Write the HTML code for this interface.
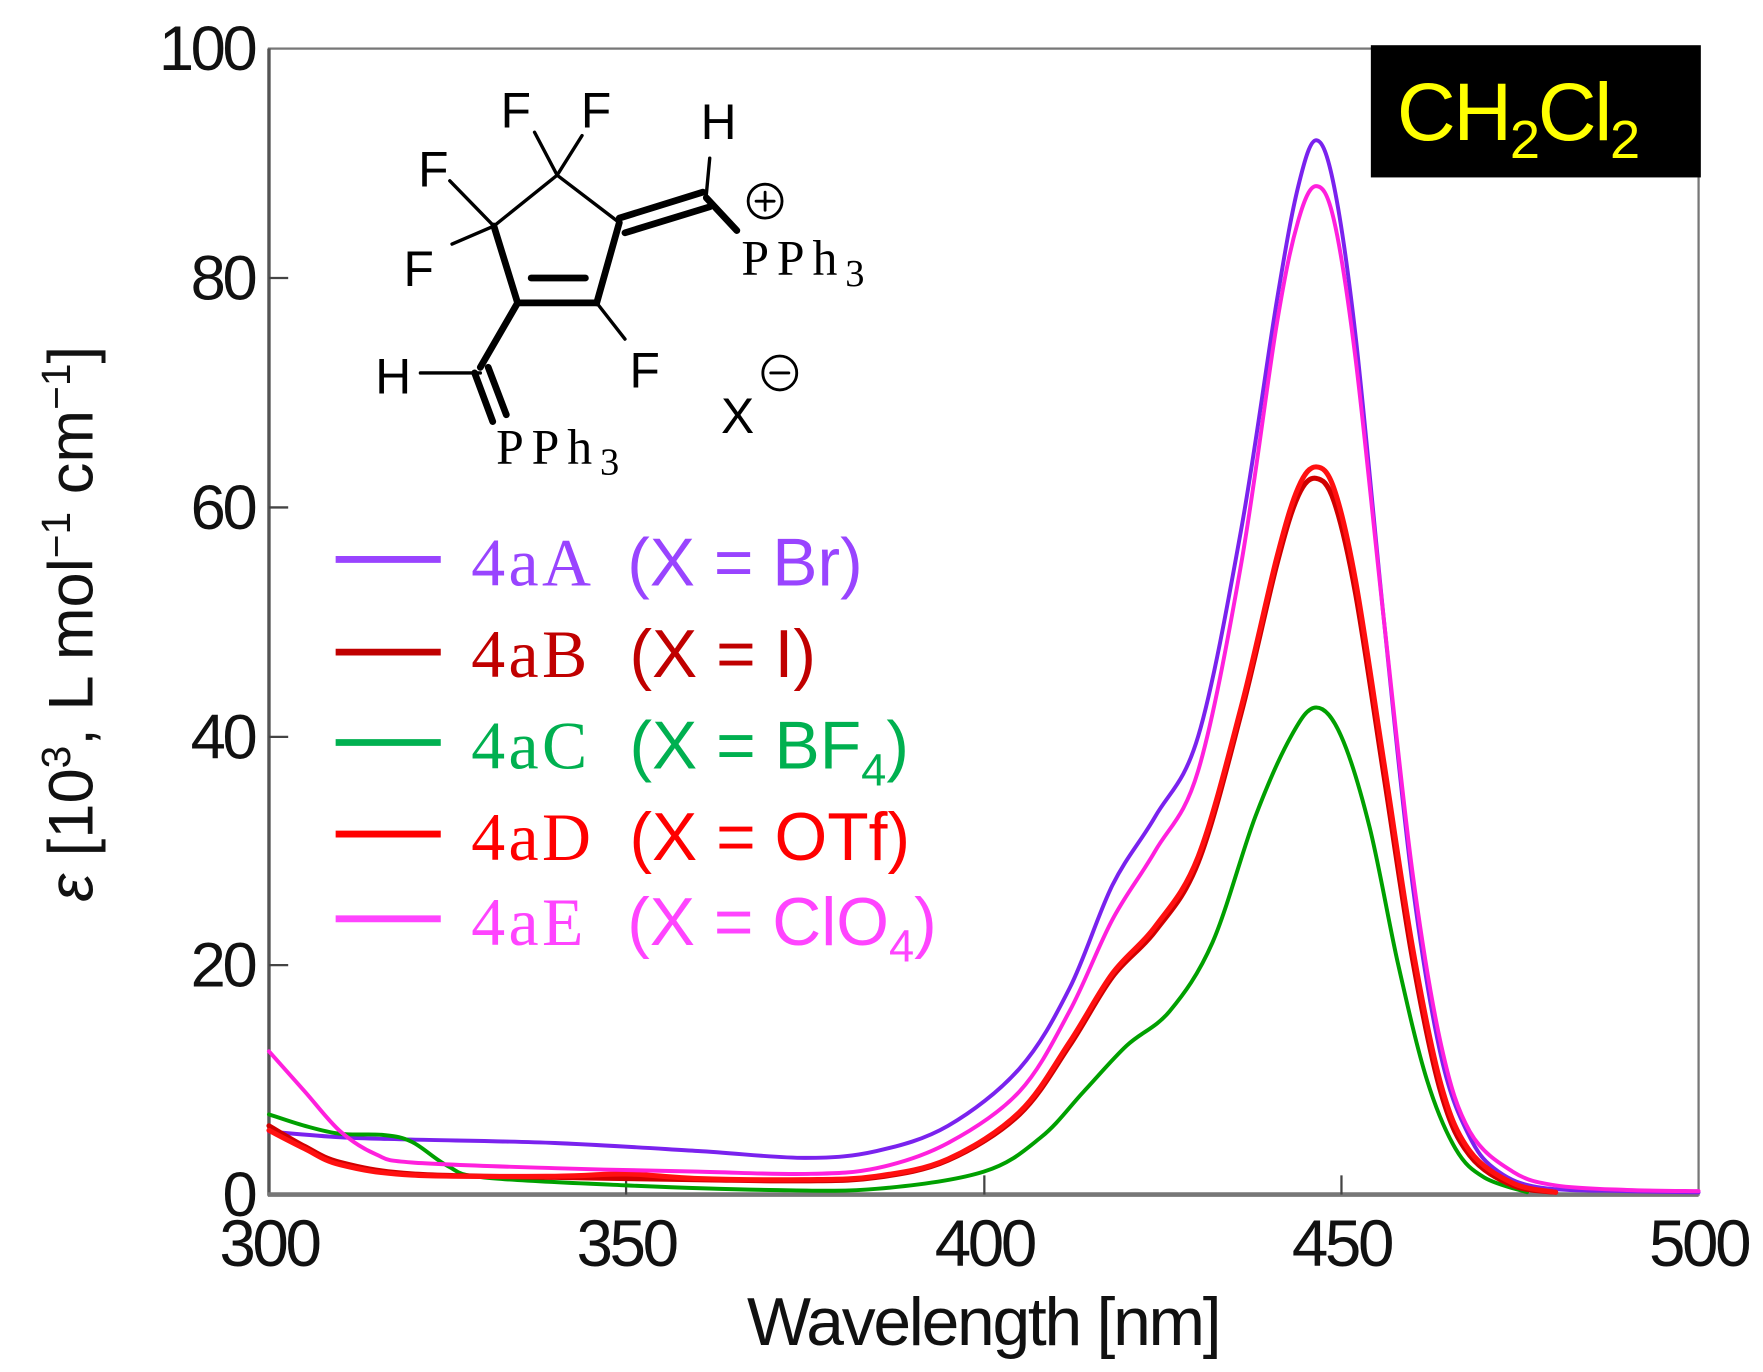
<!DOCTYPE html>
<html><head><meta charset="utf-8"><style>html,body{margin:0;padding:0;background:#fff}svg{display:block}</style></head>
<body>
<svg id="s" width="1763" height="1372" viewBox="0 0 1560 1214" preserveAspectRatio="none" xmlns="http://www.w3.org/2000/svg">
<rect width="1560" height="1214" fill="#fff"/>
<rect x="238" y="43" width="1265" height="1014" fill="none" stroke="#777" stroke-width="2"/>
<line x1="238" y1="43" x2="238" y2="1058" stroke="#555" stroke-width="3"/>
<line x1="237" y1="1057" x2="1503" y2="1057" stroke="#777" stroke-width="4"/>
<g stroke="#444" stroke-width="2">
<line x1="554" y1="1057" x2="554" y2="1040"/><line x1="871" y1="1057" x2="871" y2="1040"/><line x1="1187" y1="1057" x2="1187" y2="1040"/>
<line x1="238" y1="854" x2="255" y2="854"/><line x1="238" y1="652" x2="255" y2="652"/><line x1="238" y1="449" x2="255" y2="449"/><line x1="238" y1="246" x2="255" y2="246"/>
</g>
<g font-family="Liberation Sans, sans-serif" font-size="56" fill="#111" text-anchor="end" letter-spacing="-3">
<text x="225" y="62">100</text><text x="225" y="265">80</text><text x="225" y="468">60</text><text x="225" y="671">40</text><text x="225" y="873">20</text><text x="225" y="1076">0</text>
</g>
<g font-family="Liberation Sans, sans-serif" font-size="58" fill="#111" text-anchor="middle" letter-spacing="-3">
<text x="238" y="1120">300</text><text x="554" y="1120">350</text><text x="871" y="1120">400</text><text x="1187" y="1120">450</text><text x="1503" y="1120">500</text>
<text x="870" y="1190" font-size="60" letter-spacing="-2">Wavelength [nm]</text>
</g>
<text transform="translate(82,552) rotate(-90)" font-family="Liberation Sans, sans-serif" font-size="56" fill="#111" text-anchor="middle"><tspan font-style="italic">ε</tspan> [10<tspan dy="-20" font-size="36">3</tspan><tspan dy="20">,  L mol</tspan><tspan dy="-20" font-size="36">−1</tspan><tspan dy="20"> cm</tspan><tspan dy="-20" font-size="36">−1</tspan><tspan dy="20">]</tspan></text>
<rect x="1213" y="40" width="292" height="117" fill="#000"/>
<text x="1236" y="124" font-family="Liberation Sans, sans-serif" font-size="72" fill="#ffff00" letter-spacing="-2">CH<tspan font-size="48" dy="16">2</tspan><tspan dy="-16">Cl</tspan><tspan font-size="48" dy="16">2</tspan></text>
<g id="curves" fill="none" stroke-linejoin="round" stroke-linecap="round"></g>
<g stroke-width="6">
<line x1="297" y1="495" x2="390" y2="495" stroke="#9944ff"/>
<line x1="297" y1="577" x2="390" y2="577" stroke="#c00000"/>
<line x1="297" y1="657" x2="390" y2="657" stroke="#00b050"/>
<line x1="297" y1="738" x2="390" y2="738" stroke="#ff0000"/>
<line x1="297" y1="813" x2="390" y2="813" stroke="#ff44ff"/>
</g>
<g font-size="60">
<text x="417" y="518" fill="#9944ff"><tspan font-family="Liberation Serif, serif" letter-spacing="3">4aA</tspan><tspan font-family="Liberation Sans, sans-serif" x="555">(X = Br)</tspan></text>
<text x="417" y="599" fill="#c00000"><tspan font-family="Liberation Serif, serif" letter-spacing="3">4aB</tspan><tspan font-family="Liberation Sans, sans-serif" x="557">(X = I)</tspan></text>
<text x="417" y="680" fill="#00b050"><tspan font-family="Liberation Serif, serif" letter-spacing="3">4aC</tspan><tspan font-family="Liberation Sans, sans-serif" x="557">(X = BF</tspan><tspan font-family="Liberation Sans, sans-serif" font-size="40" dy="15">4</tspan><tspan font-family="Liberation Sans, sans-serif" dy="-15">)</tspan></text>
<text x="417" y="761" fill="#ff0000"><tspan font-family="Liberation Serif, serif" letter-spacing="3">4aD</tspan><tspan font-family="Liberation Sans, sans-serif" x="557">(X = OTf)</tspan></text>
<text x="417" y="836" fill="#ff44ff"><tspan font-family="Liberation Serif, serif" letter-spacing="3">4aE</tspan><tspan font-family="Liberation Sans, sans-serif" x="555">(X = ClO</tspan><tspan font-family="Liberation Sans, sans-serif" font-size="40" dy="15">4</tspan><tspan font-family="Liberation Sans, sans-serif" dy="-15">)</tspan></text>
</g>
<g stroke="#000" fill="none" stroke-linecap="round">
<line x1="493" y1="155" x2="437" y2="200" stroke-width="3"/>
<line x1="493" y1="155" x2="548" y2="197" stroke-width="3"/>
<line x1="437" y1="200" x2="458" y2="268" stroke-width="6"/>
<line x1="458" y1="268" x2="528" y2="268" stroke-width="6"/>
<line x1="528" y1="268" x2="548" y2="197" stroke-width="6"/>
<line x1="470" y1="246" x2="518" y2="246" stroke-width="6"/>
<line x1="493" y1="155" x2="473" y2="117" stroke-width="3"/>
<line x1="493" y1="155" x2="515" y2="120" stroke-width="3"/>
<line x1="437" y1="200" x2="398" y2="160" stroke-width="3"/>
<line x1="437" y1="200" x2="400" y2="216" stroke-width="3"/>
<line x1="528" y1="268" x2="553" y2="300" stroke-width="3"/>
<line x1="548" y1="193" x2="622" y2="170" stroke-width="6"/>
<line x1="553" y1="206" x2="628" y2="183" stroke-width="6"/>
<line x1="625" y1="175" x2="652" y2="204" stroke-width="6"/>
<line x1="625" y1="172" x2="628" y2="140" stroke-width="3"/>
<line x1="458" y1="268" x2="425" y2="325" stroke-width="6"/>
<line x1="420" y1="330" x2="436" y2="373" stroke-width="6"/>
<line x1="432" y1="325" x2="448" y2="367" stroke-width="6"/>
<line x1="372" y1="330" x2="425" y2="330" stroke-width="3"/>
<circle cx="677" cy="178" r="15" stroke-width="2.5"/>
<line x1="669" y1="178" x2="685" y2="178" stroke-width="2.5"/>
<line x1="677" y1="170" x2="677" y2="186" stroke-width="2.5"/>
<circle cx="690" cy="330" r="15" stroke-width="2.5"/>
<line x1="682" y1="330" x2="698" y2="330" stroke-width="2.5"/>
</g>
<g font-family="Liberation Sans, sans-serif" font-size="44" fill="#000">
<text x="443" y="113">F</text><text x="514" y="113">F</text><text x="370" y="165">F</text><text x="357" y="253">F</text><text x="557" y="343">F</text>
<text x="620" y="123">H</text><text x="332" y="348">H</text><text x="638" y="383">X</text>
</g>
<g font-family="Liberation Serif, serif" font-size="44" fill="#000" letter-spacing="7">
<text x="656" y="243">PPh<tspan font-size="34" dy="10">3</tspan></text>
<text x="439" y="410">PPh<tspan font-size="34" dy="10">3</tspan></text>
</g>
</svg>
<script>
var X=function(l){return 238+(l-300)*6.325},Y=function(v){return 1057-v*10.14};
var D={
"#7a22ee":[[300,5.5],[310,5],[320,4.8],[340,4.5],[360,3.8],[375,3.2],[385,3.8],[395,6],[405,11],[412,18],[418,27],[424,33],[430,40],[436,58],[441,78],[444,88],[446.5,92],[449,88],[452,75],[456,50],[460,27],[464,12],[468,5],[472,2],[478,0.6],[490,0.3],[500,0.2]],
"#00a000":[[300,7],[305,6],[310,5.3],[316,5.2],[320,4.6],[325,2.5],[330,1.5],[350,0.8],[370,0.4],[385,0.5],[400,2],[408,5],[414,9],[420,13],[426,16],[432,22],[438,33],[443,40],[446.5,42.5],[450,40],[454,32],[458,20],[462,10],[466,4],[470,1.5],[476,0.2]],
"#d00000":[[300,6],[305,4.2],[310,2.8],[320,1.8],[340,1.5],[360,1.3],[375,1.2],[385,1.5],[395,3],[405,7],[412,13],[418,19],[424,23],[430,29],[436,42],[441,55],[444,61],[446.5,62.5],[449,60.5],[452,52.5],[456,36.5],[460,20.5],[464,8.8],[468,3.4],[474,0.8],[480,0.2]],
"#ff1010":[[300,5.6],[305,4],[310,2.6],[320,1.7],[340,1.6],[350,1.8],[360,1.4],[375,1.3],[385,1.6],[395,3.1],[405,7.2],[412,13.3],[418,19.3],[424,23.4],[430,29.5],[436,42.5],[441,55.6],[444,61.7],[446.5,63.5],[449,61.6],[452,53.6],[456,37.6],[460,21.5],[464,9.5],[468,3.8],[474,1],[480,0.2]],
"#ff20dd":[[300,12.5],[305,9],[310,5.5],[315,3.5],[320,2.8],[340,2.3],[360,2.0],[375,1.8],[385,2.3],[395,4.5],[405,9],[412,16],[418,24],[424,30],[430,37],[436,55],[441,76],[444,85],[446.5,88],[449,85],[452,73],[456,50],[460,28],[464,13],[468,5.5],[474,2],[480,0.8],[490,0.4],[500,0.3]]};
var g=document.getElementById("curves"),ns="http://www.w3.org/2000/svg";
for(var c in D){var p=D[c].map(function(q){return [X(q[0]),Y(q[1])]});var d="M"+p[0][0]+","+p[0][1];
for(var i=0;i<p.length-1;i++){var p0=p[i-1]||p[i],p1=p[i],p2=p[i+1],p3=p[i+2]||p2;
d+=" C"+(p1[0]+(p2[0]-p0[0])/6)+","+(p1[1]+(p2[1]-p0[1])/6)+" "+(p2[0]-(p3[0]-p1[0])/6)+","+(p2[1]-(p3[1]-p1[1])/6)+" "+p2[0]+","+p2[1];}
var e=document.createElementNS(ns,"path");e.setAttribute("d",d);e.setAttribute("stroke",c);e.setAttribute("stroke-width",c=="#d00000"||c=="#ff1010"?"4.5":"3.5");g.appendChild(e);}
</script>
</body></html>
